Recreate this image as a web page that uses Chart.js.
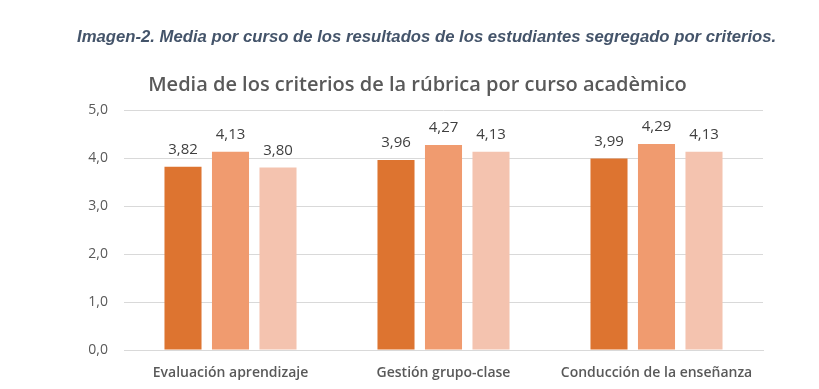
<!DOCTYPE html>
<html>
<head>
<meta charset="utf-8">
<script src="https://cdn.jsdelivr.net/npm/chart.js@4/dist/chart.umd.min.js"></script>
<style>
html,body{margin:0;padding:0;background:#fff;}
#wrap{position:relative;width:819px;height:389px;}
#caption{position:absolute;left:77px;top:27px;line-height:20px;white-space:nowrap;
  font-family:'Liberation Sans',Arial,sans-serif;font-size:16.7px;font-weight:bold;font-style:italic;color:#44546A;}
#c{position:absolute;left:0;top:0;}
</style>
</head>
<body>
<div id="wrap"><canvas id="c" width="819" height="389"></canvas><div id="caption"></div></div>
<script>
const categories = ["Evaluación aprendizaje", "Gestión grupo-clase", "Conducción de la enseñanza"];
const seriesA = [3.82, 3.96, 3.99];
const seriesB = [4.13, 4.27, 4.29];
const seriesC = [3.80, 4.13, 4.13];
const seriesNames = ["Curso 1", "Curso 2", "Curso 3"];
const yTicks = [0, 1, 2, 3, 4, 5];
const caption = "Imagen-2. Media por curso de los resultados de los estudiantes segregado por criterios.";
const chartTitle = "Media de los criterios de la rúbrica por curso acadèmico";

document.getElementById("caption").textContent = caption;

const colors = ["#DD7430", "#F09B6F", "#F4C3AF"];
const fmt = v => v.toFixed(2).replace(".", ",");

const labelPlugin = {
  id: "valueLabels",
  afterDatasetsDraw(chart) {
    const ctx = chart.ctx;
    ctx.save();
    ctx.font = "15px 'Open Sans', sans-serif";
    ctx.fillStyle = "#404040";
    ctx.textAlign = "center";
    ctx.textBaseline = "middle";
    chart.data.datasets.forEach((ds, i) => {
      chart.getDatasetMeta(i).data.forEach((bar, j) => {
        ctx.fillText(fmt(ds.data[j]), bar.x, bar.y - 17);
      });
    });
    ctx.restore();
  }
};

new Chart(document.getElementById("c"), {
  type: "bar",
  data: {
    labels: categories,
    datasets: [seriesA, seriesB, seriesC].map((d, i) => ({
      label: seriesNames[i],
      data: d,
      backgroundColor: colors[i],
      categoryPercentage: 0.669,
      barPercentage: 0.78
    }))
  },
  options: {
    responsive: false,
    animation: false,
    layout: { padding: { left: 16, right: 0, top: 0, bottom: 0 } },
    plugins: {
      legend: { display: false },
      tooltip: { enabled: false },
      title: {
        display: true,
        text: chartTitle,
        color: "#595959",
        font: { family: "'Open Sans', sans-serif", size: 20, weight: "600", lineHeight: 1.2 },
        padding: { top: 73, bottom: 13 }
      }
    },
    scales: {
      y: {
        min: 0,
        max: 5,
        afterFit: s => { s.width = 108; },
        afterBuildTicks: s => { s.ticks = yTicks.map(v => ({ value: v })); },
        ticks: {
          padding: 16,
          color: "#595959",
          font: { family: "'Open Sans', sans-serif", size: 14 },
          callback: v => v.toFixed(1).replace(".", ",")
        },
        grid: { color: "#D9D9D9", drawTicks: false },
        border: { display: false }
      },
      yRight: {
        position: "right",
        min: 0,
        max: 5,
        afterFit: s => { s.width = 56; },
        ticks: { display: false },
        grid: { display: false, drawTicks: false },
        border: { display: false }
      },
      x: {
        afterFit: s => { s.height = 39; },
        ticks: {
          padding: 15,
          color: "#595959",
          font: { family: "'Open Sans', sans-serif", size: 14, weight: "600" }
        },
        grid: { display: false, drawTicks: false },
        border: { display: true, color: "#D9D9D9" }
      }
    }
  },
  plugins: [labelPlugin]
});
</script>
</body>
</html>
